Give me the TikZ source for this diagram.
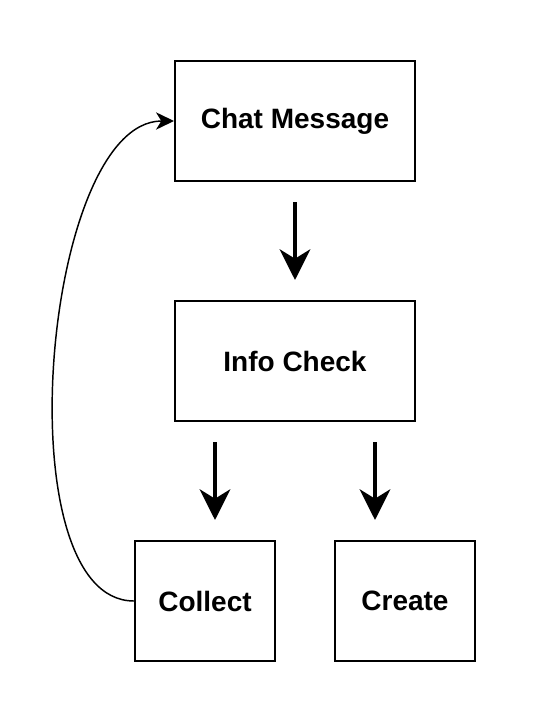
\documentclass[tikz,border=0pt]{standalone}
\usepackage{fontspec}
\setmainfont{Liberation Sans}
\usetikzlibrary{positioning,arrows.meta}
\tikzset{
  block/.style={draw, line width=1.5pt, minimum width=180pt, minimum height=90pt,
    font=\fontsize{21}{25}\selectfont\bfseries},
  small/.style={block, minimum width=105pt},
  flow/.style={line width=3pt, -{Stealth[length=23pt, width=23pt, inset=7pt]},
    shorten <=15pt, shorten >=15pt},
  loop/.style={line width=1.1pt, -{Stealth[length=13.5pt, width=13pt, inset=4pt]}}
}
\def\rowsep{88.5pt}
\def\colsep{43.5pt}

\begin{document}
\begin{tikzpicture}[x=0.75pt, y=-0.75pt]
  \useasboundingbox (0,0) rectangle (544,714);

  \node[block] (chat) at (295,121) {Chat Message};
  \node[block, below=\rowsep of chat] (info) {Info Check};
  \node[small] (collect) at (205,601) {Collect};
  \node[small, right=\colsep of collect] (create) {Create};

  \draw[flow] (chat.south) -- (info.north);
  \draw[flow] ([xshift=-60pt]info.south) -- ([xshift=7.5pt]collect.north);
  \draw[flow] ([xshift=60pt]info.south) -- ([xshift=-22.5pt]create.north);

  \draw[loop] (collect.west) to[out=180, in=180, looseness=0.7] (chat.west);
\end{tikzpicture}
\end{document}
